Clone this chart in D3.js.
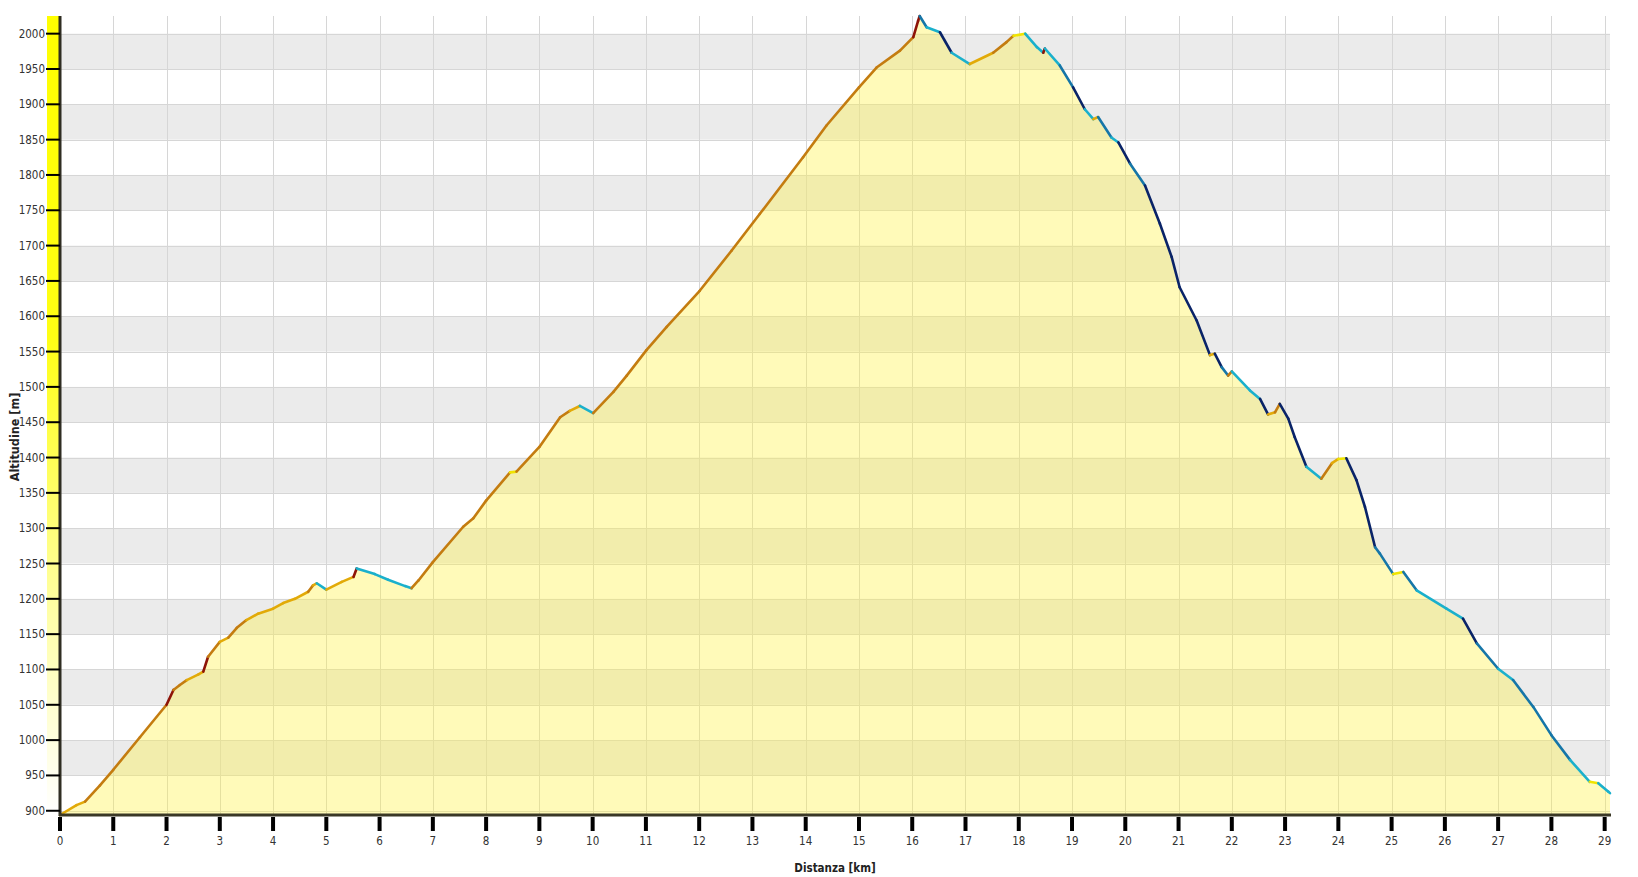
<!DOCTYPE html>
<html>
<head>
<meta charset="utf-8">
<script src="https://cdn.jsdelivr.net/npm/d3@7"></script>
<style>
  html, body { margin: 0; padding: 0; background: #ffffff; }
  svg { display: block; }
  text { font-family: "DejaVu Sans Condensed", "DejaVu Sans", sans-serif; }
</style>
</head>
<body>
<svg id="chart" width="1638" height="877"></svg>
<script>
// ---- DATA ----
const distanceKm = [
  0.00, 0.31, 0.47, 0.75, 1.00, 1.50, 2.00, 2.13, 2.25, 2.38, 2.60, 2.69, 2.78, 3.00,
  3.16, 3.32, 3.50, 3.72, 4.00, 4.19, 4.41, 4.66, 4.75, 4.82, 5.00, 5.29, 5.51, 5.57,
  5.91, 6.16, 6.48, 6.60, 6.73, 7.00, 7.57, 7.76, 8.00, 8.45, 8.57, 9.00, 9.39, 9.57,
  9.76, 10.01, 10.39, 10.64, 11.01, 11.39, 12.01, 12.61, 13.14, 13.95, 14.39, 15.00,
  15.33, 15.77, 16.02, 16.11, 16.14, 16.27, 16.52, 16.74, 17.08, 17.52, 17.77, 17.90,
  18.12, 18.34, 18.46, 18.49, 18.77, 19.02, 19.24, 19.40, 19.49, 19.74, 19.87, 20.09,
  20.37, 20.65, 20.87, 21.02, 21.34, 21.59, 21.68, 21.81, 21.93, 22.00, 22.34, 22.53,
  22.68, 22.81, 22.90, 23.06, 23.18, 23.40, 23.68, 23.88, 24.00, 24.15, 24.34, 24.50,
  24.69, 24.78, 25.03, 25.22, 25.47, 26.03, 26.34, 26.60, 27.00, 27.28, 27.66, 28.00,
  28.35, 28.72, 28.88, 29.07, 29.10
];
const altitudeM = [
  894, 908, 913, 936, 958, 1004, 1050, 1071, 1078, 1085, 1093, 1097, 1118, 1139,
  1145, 1159, 1170, 1179, 1186, 1194, 1200, 1210, 1219, 1222, 1213, 1224, 1231, 1243,
  1235, 1227, 1218, 1215, 1226, 1252, 1302, 1314, 1339, 1379, 1380, 1415, 1457, 1466,
  1473, 1463, 1493, 1516, 1552, 1585, 1636, 1693, 1745, 1825, 1870, 1924,
  1952, 1976, 1995, 2018, 2025, 2009, 2002, 1973, 1957, 1973, 1988, 1997,
  2000, 1981, 1973, 1979, 1955, 1924, 1893, 1879, 1882, 1853, 1846, 1816,
  1785, 1731, 1684, 1641, 1594, 1545, 1547, 1528, 1516, 1522, 1495, 1483,
  1461, 1464, 1476, 1455, 1429, 1387, 1370, 1392, 1398, 1399, 1368, 1330,
  1273, 1264, 1235, 1238, 1212, 1186, 1172, 1137, 1101, 1085, 1047, 1007,
  972, 941, 939, 927, 925
];
const xTickValues = d3.range(0, 30);           // 0 … 29 km
const yTickValues = d3.range(900, 2001, 50);   // 900 … 2000 m
const slopeThresholds = [-13, -9, -2, 2, 5, 15];    // % gradient classes
const slopeColors = ["#0a2468", "#1676a8", "#1ab0cc", "#f0e400", "#e2aa08", "#c47c10", "#8e1408"];
const xTitle = "Distanza [km]";
const yTitle = "Altitudine [m]";

// ---- LAYOUT ----
const svg = d3.select("#chart");
const mLeft = 60, mRight = 1610, mTop = 16, mBottom = 815;

const x = d3.scaleLinear().domain([0, 29.1]).range([mLeft, mRight]);
const y = d3.scaleLinear().domain([894, 2025]).range([mBottom, mTop]);
const slopeColor = d3.scaleThreshold().domain(slopeThresholds).range(slopeColors);

const pts = distanceKm.map((d, i) => ({ d, a: altitudeM[i] }));

// gradient for the left bar
const defs = svg.append("defs");
const grad = defs.append("linearGradient").attr("id", "barGrad")
  .attr("x1", 0).attr("y1", 0).attr("x2", 0).attr("y2", 1);
grad.append("stop").attr("offset", "0%").attr("stop-color", "#ffff00");
grad.append("stop").attr("offset", "40%").attr("stop-color", "#ffff14");
grad.append("stop").attr("offset", "75%").attr("stop-color", "#ffffa8");
grad.append("stop").attr("offset", "100%").attr("stop-color", "#ffffff");

// alternating bands (grey where lower bound/50 is odd)
const bandStarts = yTickValues.filter(v => (v / 50) % 2 === 1);
svg.append("g").selectAll("rect").data(bandStarts).join("rect")
  .attr("x", mLeft).attr("width", mRight - mLeft)
  .attr("y", d => y(d + 50)).attr("height", d => y(d) - y(d + 50))
  .attr("fill", "#ebebeb");

// grid lines
svg.append("g").selectAll("line").data(yTickValues).join("line")
  .attr("x1", mLeft).attr("x2", mRight)
  .attr("y1", d => Math.round(y(d)) + 0.5).attr("y2", d => Math.round(y(d)) + 0.5)
  .attr("stroke", "#d6d6d6").attr("stroke-width", 1);
svg.append("g").selectAll("line").data(xTickValues.slice(1)).join("line")
  .attr("x1", d => Math.round(x(d)) + 0.5).attr("x2", d => Math.round(x(d)) + 0.5)
  .attr("y1", mTop).attr("y2", mBottom)
  .attr("stroke", "#d6d6d6").attr("stroke-width", 1);

// area
const area = d3.area().x(p => x(p.d)).y0(mBottom).y1(p => y(p.a));
svg.append("path").datum(pts).attr("d", area)
  .attr("fill", "rgb(255,240,60)").attr("fill-opacity", 0.36);

// slope-coloured profile line
const segs = d3.pairs(pts).map(([p, q]) => ({
  p, q, slope: (q.a - p.a) / ((q.d - p.d) * 1000) * 100
}));
svg.append("g").selectAll("line").data(segs).join("line")
  .attr("x1", s => x(s.p.d)).attr("y1", s => y(s.p.a))
  .attr("x2", s => x(s.q.d)).attr("y2", s => y(s.q.a))
  .attr("stroke", s => slopeColor(s.slope))
  .attr("stroke-width", 2.6).attr("stroke-linecap", "round");

// left gradient bar
svg.append("rect").attr("x", 47).attr("y", mTop).attr("width", 12).attr("height", mBottom - mTop)
  .attr("fill", "url(#barGrad)");

// axes lines
svg.append("line").attr("x1", mLeft).attr("x2", mLeft).attr("y1", mTop).attr("y2", mBottom + 1)
  .attr("stroke", "#2f2d22").attr("stroke-width", 3);
svg.append("line").attr("x1", mLeft - 1).attr("x2", mRight + 1).attr("y1", mBottom).attr("y2", mBottom)
  .attr("stroke", "#3a3826").attr("stroke-width", 3);

// y ticks + labels
const yt = svg.append("g").selectAll("g").data(yTickValues).join("g");
yt.append("line").attr("x1", 46).attr("x2", mLeft)
  .attr("y1", d => y(d)).attr("y2", d => y(d))
  .attr("stroke", "#000").attr("stroke-width", 2);
yt.append("text").attr("x", 45).attr("y", d => y(d) + 4)
  .attr("text-anchor", "end").attr("font-size", 11.5).attr("fill", "#333")
  .text(d => d);

// x ticks + labels
const xt = svg.append("g").selectAll("g").data(xTickValues).join("g");
xt.append("line").attr("x1", d => x(d)).attr("x2", d => x(d))
  .attr("y1", mBottom + 2).attr("y2", mBottom + 16)
  .attr("stroke", "#000").attr("stroke-width", 4);
xt.append("text").attr("x", d => x(d)).attr("y", 845)
  .attr("text-anchor", "middle").attr("font-size", 11.5).attr("fill", "#333")
  .text(d => d);

// titles
svg.append("text").attr("x", (mLeft + mRight) / 2).attr("y", 872)
  .attr("text-anchor", "middle").attr("font-size", 11.5).attr("font-weight", "bold")
  .attr("fill", "#222").text(xTitle);
svg.append("text").attr("transform", "translate(19,437) rotate(-90)")
  .attr("text-anchor", "middle").attr("font-size", 12.5).attr("font-weight", "bold")
  .attr("fill", "#222").text(yTitle);
</script>
</body>
</html>
